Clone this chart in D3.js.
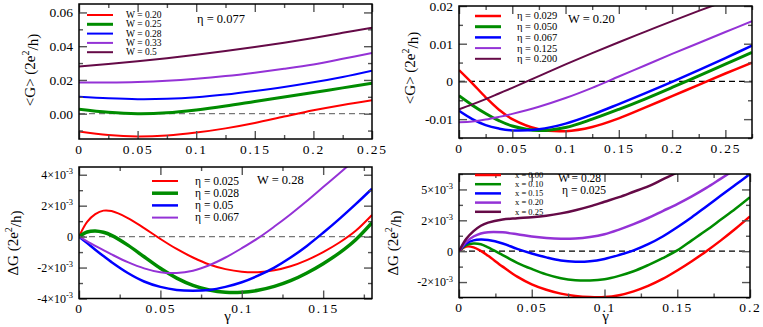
<!DOCTYPE html>
<html>
<head>
<meta charset="utf-8">
<script src="https://cdn.jsdelivr.net/npm/d3@7"></script>
<style>
  body { margin: 0; background: #fff; }
  svg text { font-family: "Liberation Serif", "DejaVu Serif", "Times New Roman", serif; fill: #000; }
</style>
</head>
<body>
<script>
// ---- data ----

// top left: <G> vs gamma, eta = 0.077
var tlX = [0, 0.025, 0.05, 0.075, 0.1, 0.125, 0.15, 0.175, 0.2, 0.225, 0.25];
var tlW020 = [-0.0106, -0.0127, -0.0135, -0.0129, -0.0112, -0.0087, -0.0055, -0.0017, 0.0020, 0.0052, 0.0080];
var tlW025 = [0.0026, 0.0008, 0.0000, 0.0005, 0.0022, 0.0045, 0.0072, 0.0099, 0.0126, 0.0153, 0.0180];
var tlW028 = [0.0100, 0.0091, 0.0086, 0.0088, 0.0097, 0.0113, 0.0134, 0.0158, 0.0186, 0.0218, 0.0255];
var tlW033 = [0.0185, 0.0185, 0.0188, 0.0195, 0.0207, 0.0223, 0.0243, 0.0266, 0.0292, 0.0325, 0.0360];
var tlW050 = [0.0280, 0.0295, 0.0311, 0.0329, 0.0349, 0.0371, 0.0395, 0.0421, 0.0449, 0.0479, 0.0510];

// top right: <G> vs gamma, W = 0.20
var trX = [0, 0.0125, 0.025, 0.0375, 0.05, 0.075, 0.1, 0.125, 0.15, 0.175, 0.2, 0.225, 0.25, 0.275];
var trE029 = [0.0030, -0.0005, -0.0042, -0.0075, -0.0100, -0.0127, -0.0132, -0.0121, -0.0098, -0.0069, -0.0039, -0.0009, 0.0021, 0.0050];
var trE050 = [-0.0038, -0.0063, -0.0085, -0.0104, -0.0118, -0.0130, -0.0122, -0.0100, -0.0074, -0.0046, -0.0016, 0.0015, 0.0046, 0.0077];
var trE067 = [-0.0078, -0.0100, -0.0116, -0.0125, -0.0130, -0.0127, -0.0112, -0.0088, -0.0060, -0.0031, -0.0001, 0.0030, 0.0062, 0.0095];
var trE125 = [-0.0108, -0.0106, -0.0101, -0.0094, -0.0086, -0.0067, -0.0044, -0.0017, 0.0013, 0.0043, 0.0073, 0.0102, 0.0131, 0.0160];
var trE200 = [-0.0074, -0.0061, -0.0047, -0.0032, -0.0017, 0.0014, 0.0045, 0.0075, 0.0104, 0.0132, 0.0160, 0.0187, 0.0213, 0.0238];

// bottom left: dG (units of 1e-3) vs gamma, W = 0.28
var blX = [0, 0.005, 0.01, 0.015, 0.02, 0.03, 0.04, 0.05, 0.06, 0.07, 0.08, 0.09, 0.1, 0.11, 0.12, 0.13, 0.14, 0.15, 0.16, 0.17, 0.18];
var blE025 = [0, 0.95, 1.45, 1.68, 1.65, 1.2, 0.55, -0.15, -0.8, -1.35, -1.8, -2.1, -2.27, -2.3, -2.18, -1.92, -1.52, -1.0, -0.38, 0.38, 1.4];
var blE028 = [0, 0.3, 0.37, 0.28, 0.08, -0.55, -1.3, -2.05, -2.68, -3.15, -3.45, -3.6, -3.6, -3.47, -3.22, -2.85, -2.35, -1.75, -1.05, -0.2, 0.9];
var blE050 = [0, -0.42, -0.85, -1.26, -1.65, -2.35, -2.9, -3.25, -3.45, -3.5, -3.45, -3.25, -2.95, -2.52, -2.0, -1.35, -0.6, 0.25, 1.15, 2.1, 3.1];
var blE067 = [0, -0.3, -0.6, -0.88, -1.15, -1.65, -2.05, -2.3, -2.35, -2.2, -1.85, -1.35, -0.75, -0.1, 0.65, 1.45, 2.3, 3.2, 4.1, 5.0, 5.9];

// bottom right: dG (units of 1e-3) vs gamma, W = 0.28, eta = 0.025
var brX = [0, 0.005, 0.01, 0.015, 0.02, 0.03, 0.04, 0.05, 0.06, 0.07, 0.08, 0.09, 0.1, 0.11, 0.12, 0.13, 0.14, 0.15, 0.16, 0.17, 0.18, 0.19, 0.2];
var brX000 = [0, 0.3, 0.25, 0.02, -0.3, -1.0, -1.65, -2.15, -2.5, -2.75, -2.9, -2.97, -2.97, -2.85, -2.6, -2.25, -1.8, -1.25, -0.65, 0.0, 0.7, 1.45, 2.25];
var brX010 = [0, 0.4, 0.5, 0.45, 0.25, -0.25, -0.75, -1.15, -1.5, -1.75, -1.88, -1.9, -1.82, -1.6, -1.3, -0.9, -0.45, 0.05, 0.7, 1.35, 2.05, 2.75, 3.5];
var brX015 = [0, 0.5, 0.7, 0.75, 0.72, 0.5, 0.15, -0.15, -0.4, -0.6, -0.68, -0.65, -0.5, -0.25, 0.05, 0.45, 0.95, 1.55, 2.2, 2.9, 3.6, 4.3, 5.0];
var brX020 = [0, 0.6, 0.95, 1.15, 1.23, 1.22, 1.1, 0.95, 0.85, 0.8, 0.82, 0.92, 1.1, 1.4, 1.75, 2.15, 2.6, 3.05, 3.55, 4.1, 4.7, 5.3, 5.9];
var brX025 = [0, 0.8, 1.3, 1.65, 1.85, 2.05, 2.13, 2.2, 2.3, 2.45, 2.65, 2.9, 3.2, 3.5, 3.85, 4.2, 4.65, 5.1, 5.6, 6.1, 6.6, 7.1, 7.6];

// tick values and labels
var xTicks25 = [0, 0.05, 0.1, 0.15, 0.2, 0.25];
var xLabels25 = ["0", "0.05", "0.1", "0.15", "0.2", "0.25"];
var xTicks20 = [0, 0.05, 0.1, 0.15, 0.2];
var xLabels20 = ["0", "0.05", "0.1", "0.15", "0.2"];
var xTicks15 = [0, 0.05, 0.1, 0.15];
var xLabels15 = ["0", "0.05", "0.1", "0.15"];
var tlYTicks = [0, 0.02, 0.04, 0.06];
var tlYLabels = ["0.00", "0.02", "0.04", "0.06"];
var trYTicks = [-0.01, 0, 0.01, 0.02];
var trYLabels = ["-0.01", "0", "0.01", "0.02"];
var blYTicks = [-4, -2, 0, 2, 4];
var blYLabels = [["-4\u00d710", "-3"], ["-2\u00d710", "-3"], ["0", ""], ["2\u00d710", "-3"], ["4\u00d710", "-3"]];
var brYTicks = [-2, 0, 2, 4];
var brYLabels = [["-2\u00d710", "-3"], ["0", ""], ["2\u00d710", "-3"], ["5\u00d710", "-3"]];

var red = "#ff0000", green = "#008c00", blue = "#0000ff", violet = "#9432d6", maroon = "#650a47";
var serif = "'Liberation Serif', 'DejaVu Serif', 'Times New Roman', serif";

var svg = d3.select("body").append("svg")
  .attr("width", 763)
  .attr("height", 327)
  .style("font-family", serif);

var defs = svg.append("defs");
var clipCount = 0;

function range(a, b, step) {
  var out = [];
  for (var v = a; v <= b + 1e-9; v += step) out.push(+v.toFixed(6));
  return out;
}

function drawPanel(p) {
  var x = d3.scaleLinear().domain(p.xDomain).range([p.x0, p.x1]);
  var y = d3.scaleLinear().domain(p.yDomain).range([p.y1, p.y0]);
  var g = svg.append("g");

  var id = "clip" + (clipCount++);
  defs.append("clipPath").attr("id", id)
    .append("rect")
    .attr("x", p.x0).attr("y", p.y0)
    .attr("width", p.x1 - p.x0).attr("height", p.y1 - p.y0);

  // zero line
  g.append("line")
    .attr("x1", p.x0).attr("x2", p.x1)
    .attr("y1", y(0)).attr("y2", y(0))
    .attr("stroke", p.zeroColor)
    .attr("stroke-width", 1.2)
    .attr("stroke-dasharray", "6,4");

  var line = d3.line()
    .x(function (d) { return x(d[0]); })
    .y(function (d) { return y(d[1]); })
    .curve(d3.curveCatmullRom.alpha(0.5));

  var curves = g.append("g").attr("clip-path", "url(#" + id + ")");
  p.series.forEach(function (s) {
    var pts = p.xs.map(function (xv, i) { return [xv, s.values[i]]; });
    curves.append("path")
      .attr("d", line(pts))
      .attr("fill", "none")
      .attr("stroke", s.color)
      .attr("stroke-width", s.width);
  });

  // ticks on all four sides, pointing in
  var xMinor = range(p.xDomain[0], p.xDomain[1], 0.025).filter(function (v) {
    return p.xTicks.indexOf(v) < 0;
  });
  var yMinor = p.yMinor;

  function styleAxis(sel) {
    sel.attr("font-family", null);
    sel.select(".domain").remove();
    sel.selectAll(".tick line").attr("stroke", "#555").attr("stroke-width", 1.4);
  }

  g.append("g").attr("transform", "translate(0," + p.y1 + ")")
    .call(d3.axisBottom(x).tickValues(p.xTicks).tickSize(-8).tickPadding(5)
      .tickFormat(function (d, i) { return p.xLabels[i]; }))
    .call(styleAxis)
    .selectAll("text")
    .attr("font-size", 13.5)
    .style("letter-spacing", "1.8px")
    .style("font-family", serif);
  g.append("g").attr("transform", "translate(0," + p.y1 + ")")
    .call(d3.axisBottom(x).tickValues(xMinor).tickSize(-4).tickFormat(""))
    .call(styleAxis);
  g.append("g").attr("transform", "translate(0," + p.y0 + ")")
    .call(d3.axisTop(x).tickValues(p.xTicks).tickSize(-8).tickFormat(""))
    .call(styleAxis);
  g.append("g").attr("transform", "translate(0," + p.y0 + ")")
    .call(d3.axisTop(x).tickValues(xMinor).tickSize(-4).tickFormat(""))
    .call(styleAxis);

  var yl = g.append("g").attr("transform", "translate(" + p.x0 + ",0)")
    .call(d3.axisLeft(y).tickValues(p.yTicks).tickSize(-8).tickPadding(6).tickFormat(""))
    .call(styleAxis);
  yl.selectAll(".tick").each(function (d, i) {
    var lab = p.yLabels[i];
    var t = d3.select(this).select("text")
      .attr("font-size", p.yFont)
      .style("font-family", serif);
    if (Array.isArray(lab)) {
      t.text(null);
      t.append("tspan").text(lab[0]);
      if (lab[1]) {
        t.append("tspan").attr("dy", "-0.55em").attr("font-size", p.yFont * 0.7).text(lab[1]);
      }
    } else {
      t.text(lab);
    }
  });
  g.append("g").attr("transform", "translate(" + p.x0 + ",0)")
    .call(d3.axisLeft(y).tickValues(yMinor).tickSize(-4).tickFormat(""))
    .call(styleAxis);
  g.append("g").attr("transform", "translate(" + p.x1 + ",0)")
    .call(d3.axisRight(y).tickValues(p.yTicks).tickSize(-8).tickFormat(""))
    .call(styleAxis);
  g.append("g").attr("transform", "translate(" + p.x1 + ",0)")
    .call(d3.axisRight(y).tickValues(yMinor).tickSize(-4).tickFormat(""))
    .call(styleAxis);

  // frame
  g.append("rect")
    .attr("x", p.x0).attr("y", p.y0)
    .attr("width", p.x1 - p.x0).attr("height", p.y1 - p.y0)
    .attr("fill", "none")
    .attr("stroke", "#000")
    .attr("stroke-width", 1.5);

  // y title
  var yt = g.append("text")
    .attr("transform", "translate(" + p.yTitleX + "," + p.yTitleY + ")rotate(-90)")
    .attr("text-anchor", "middle")
    .attr("font-size", 15);
  yt.append("tspan").text(p.yTitle);
  yt.append("tspan").attr("dy", "-0.6em").attr("font-size", 10).text("2");
  yt.append("tspan").attr("dy", "0.6em").text("/h)");

  if (p.xTitle) {
    g.append("text")
      .attr("x", (p.x0 + p.x1) / 2 + p.xTitleDx)
      .attr("y", 321)
      .attr("text-anchor", "middle")
      .attr("font-size", 15)
      .text(p.xTitle);
  }

  // legend
  p.series.forEach(function (s, i) {
    var ly = p.legY + i * p.legStep;
    g.append("line")
      .attr("x1", p.legX).attr("x2", p.legX + 26)
      .attr("y1", ly).attr("y2", ly)
      .attr("stroke", s.color)
      .attr("stroke-width", s.width);
    g.append("text")
      .attr("x", p.legX + p.legTextDx)
      .attr("y", ly)
      .attr("dy", "0.33em")
      .attr("font-size", p.legFont)
      .text(s.name);
  });
  p.notes.forEach(function (n) {
    g.append("text")
      .attr("x", n.x).attr("y", n.y)
      .attr("dy", "0.33em")
      .attr("font-size", n.size)
      .text(n.text);
  });
}

drawPanel({
  x0: 79, x1: 372, y0: 4, y1: 139,
  xDomain: [0, 0.25], yDomain: [-0.015, 0.065],
  xs: tlX,
  xTicks: xTicks25, xLabels: xLabels25,
  yTicks: tlYTicks, yLabels: tlYLabels, yMinor: [-0.01, 0.01, 0.03, 0.05], yFont: 13.5,
  zeroColor: "#777",
  yTitle: "<G> (2e", yTitleX: 35, yTitleY: 70,
  series: [
    { name: "W = 0.20", values: tlW020, color: red, width: 2 },
    { name: "W = 0.25", values: tlW025, color: green, width: 3 },
    { name: "W = 0.28", values: tlW028, color: blue, width: 2 },
    { name: "W = 0.33", values: tlW033, color: violet, width: 2 },
    { name: "W = 0.5", values: tlW050, color: maroon, width: 2 }
  ],
  legX: 87, legY: 15, legStep: 9.3, legTextDx: 39, legFont: 9.5,
  notes: [{ text: "\u03b7 = 0.077", x: 197, y: 19, size: 12.5 }]
});

drawPanel({
  x0: 459, x1: 752, y0: 6, y1: 138,
  xDomain: [0, 0.275], yDomain: [-0.015, 0.02],
  xs: trX,
  xTicks: xTicks25, xLabels: xLabels25,
  yTicks: trYTicks, yLabels: trYLabels, yMinor: [-0.015, -0.005, 0.005, 0.015], yFont: 13.5,
  zeroColor: "#000",
  yTitle: "<G> (2e", yTitleX: 415, yTitleY: 68,
  series: [
    { name: "\u03b7 = 0.029", values: trE029, color: red, width: 2.5 },
    { name: "\u03b7 = 0.050", values: trE050, color: green, width: 3 },
    { name: "\u03b7 = 0.067", values: trE067, color: blue, width: 2.5 },
    { name: "\u03b7 = 0.125", values: trE125, color: violet, width: 2 },
    { name: "\u03b7 = 0.200", values: trE200, color: maroon, width: 2 }
  ],
  legX: 475, legY: 16, legStep: 10.7, legTextDx: 42, legFont: 10.5,
  notes: [{ text: "W = 0.20", x: 568, y: 19, size: 12.5 }]
});

drawPanel({
  x0: 79, x1: 372, y0: 167, y1: 298.5,
  xDomain: [0, 0.18], yDomain: [-4, 4.5],
  xs: blX,
  xTicks: xTicks15, xLabels: xLabels15,
  yTicks: blYTicks, yLabels: blYLabels, yMinor: [-3, -1, 1, 3], yFont: 12,
  zeroColor: "#777",
  yTitle: "\u0394G (2e", yTitleX: 18, yTitleY: 243,
  xTitle: "\u03b3", xTitleDx: 2,
  series: [
    { name: "\u03b7 = 0.025", values: blE025, color: red, width: 2 },
    { name: "\u03b7 = 0.028", values: blE028, color: green, width: 3.5 },
    { name: "\u03b7 = 0.05", values: blE050, color: blue, width: 2.5 },
    { name: "\u03b7 = 0.067", values: blE067, color: violet, width: 2 }
  ],
  legX: 152, legY: 181, legStep: 12.2, legTextDx: 43, legFont: 11.5,
  notes: [{ text: "W = 0.28", x: 257, y: 180, size: 12.5 }]
});

drawPanel({
  x0: 459, x1: 750, y0: 174, y1: 297.5,
  xDomain: [0, 0.2], yDomain: [-3, 5],
  xs: brX,
  xTicks: xTicks20, xLabels: xLabels20,
  yTicks: brYTicks, yLabels: brYLabels, yMinor: [-3, -1, 1, 3, 5], yFont: 12,
  zeroColor: "#000",
  yTitle: "\u0394G (2e", yTitleX: 398, yTitleY: 243,
  xTitle: "\u03b3", xTitleDx: 1,
  series: [
    { name: "x = 0.00", values: brX000, color: red, width: 2.5 },
    { name: "x = 0.10", values: brX010, color: green, width: 2.5 },
    { name: "x = 0.15", values: brX015, color: blue, width: 2.5 },
    { name: "x = 0.20", values: brX020, color: violet, width: 2.5 },
    { name: "x = 0.25", values: brX025, color: maroon, width: 2.5 }
  ],
  legX: 475, legY: 175, legStep: 9.2, legTextDx: 40, legFont: 8.5,
  notes: [
    { text: "W = 0.28", x: 558, y: 178, size: 11.5 },
    { text: "\u03b7 = 0.025", x: 562, y: 190.5, size: 11.5 }
  ]
});
</script>
</body>
</html>
